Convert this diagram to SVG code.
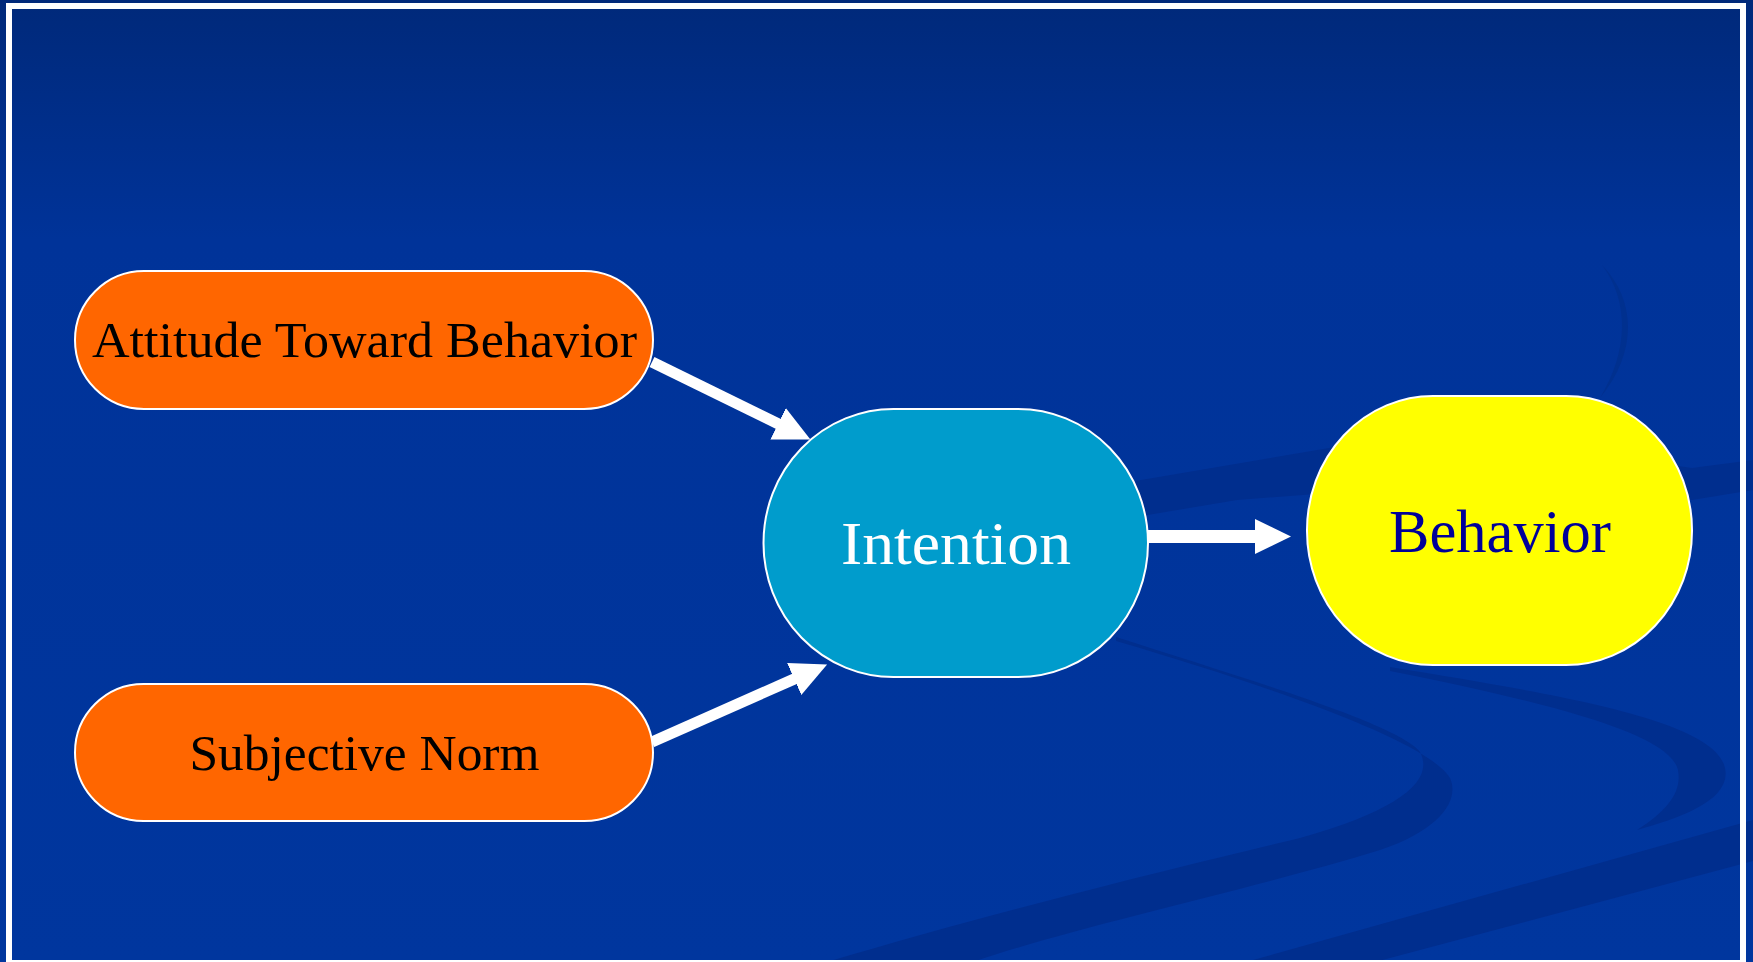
<svg xmlns="http://www.w3.org/2000/svg" width="1753" height="962" viewBox="0 0 1753 962">
  <defs>
    <linearGradient id="bg" x1="0" y1="0" x2="0" y2="1">
      <stop offset="0" stop-color="#00297a"/>
      <stop offset="0.25" stop-color="#003399"/>
      <stop offset="1" stop-color="#00369e"/>
    </linearGradient>
    <marker id="head" markerUnits="userSpaceOnUse" markerWidth="37" markerHeight="36" refX="1" refY="17.5" orient="auto">
      <path d="M0,0 L36,17.5 L0,35 Z" fill="#ffffff"/>
    </marker>
    <style>
      .swoosh { fill: #002e8e; }
      .faint { fill: #00308f; }
      .node { stroke: #ffffff; stroke-width: 2; }
      .orange { fill: #ff6600; }
      .label { font-family: "Liberation Serif", "Times New Roman", serif; text-anchor: middle; }
      .conn { stroke: #ffffff; fill: none; }
    </style>
  </defs>

  <g id="background">
    <rect x="0" y="0" width="1753" height="962" fill="url(#bg)"/>
  </g>

  <g id="decoration">
    <path class="swoosh" d="M1100,487 L1335,447 L1500,440 L1692,468 L1753,460 L1753,490 L1692,500 L1500,480 L1237,500 L1100,523 Z"/>
    <path class="faint" d="M1602,265 C1636,300 1638,352 1600,398 C1628,352 1630,302 1602,265 Z"/>
    <path class="swoosh" d="M1116,637 C1250,680 1400,725 1420,752 C1435,780 1400,810 1300,838 C1200,862 1000,910 827,962 L973,962 C1080,925 1250,890 1380,850 C1440,830 1460,800 1450,778 C1430,745 1300,695 1116,641 Z"/>
    <path class="swoosh" d="M1390,667 C1560,695 1715,720 1725,768 C1732,800 1680,818 1637,830 C1668,810 1682,792 1678,770 C1670,735 1560,705 1390,671 Z"/>
    <path class="swoosh" d="M1246,962 L1753,820 L1753,861 L1375,962 Z"/>
  </g>

  <g id="frame">
    <rect x="9" y="6" width="1734" height="957" fill="none" stroke="#ffffff" stroke-width="6"/>
  </g>

  <g id="connectors">
    <line class="conn" x1="652" y1="362" x2="779" y2="424.2" stroke-width="11" marker-end="url(#head)"/>
    <line class="conn" x1="652" y1="742" x2="795.1" y2="678.6" stroke-width="11" marker-end="url(#head)"/>
    <line class="conn" x1="1148" y1="536.5" x2="1256" y2="536.5" stroke-width="13" marker-end="url(#head)"/>
  </g>

  <g id="node-attitude">
    <rect class="node orange" x="75" y="271" width="578" height="138" rx="69" ry="69"/>
    <text class="label" x="364.5" y="357" font-size="51" fill="#000000" textLength="545" lengthAdjust="spacingAndGlyphs">Attitude Toward Behavior</text>
  </g>

  <g id="node-subjective-norm">
    <rect class="node orange" x="75" y="684" width="578" height="137" rx="68.5" ry="68.5"/>
    <text class="label" x="364.5" y="770" font-size="51" fill="#000000" textLength="350" lengthAdjust="spacingAndGlyphs">Subjective Norm</text>
  </g>

  <g id="node-intention">
    <rect class="node" x="763.5" y="409" width="384.5" height="268" rx="130" ry="134" fill="#009ccc"/>
    <text class="label" x="956" y="564" font-size="61" fill="#ffffff" textLength="230" lengthAdjust="spacingAndGlyphs">Intention</text>
  </g>

  <g id="node-behavior">
    <rect class="node" x="1307" y="396" width="385" height="269" rx="126" ry="134" fill="#ffff00"/>
    <text class="label" x="1500" y="552" font-size="62" fill="#000099" textLength="222" lengthAdjust="spacingAndGlyphs">Behavior</text>
  </g>
</svg>
